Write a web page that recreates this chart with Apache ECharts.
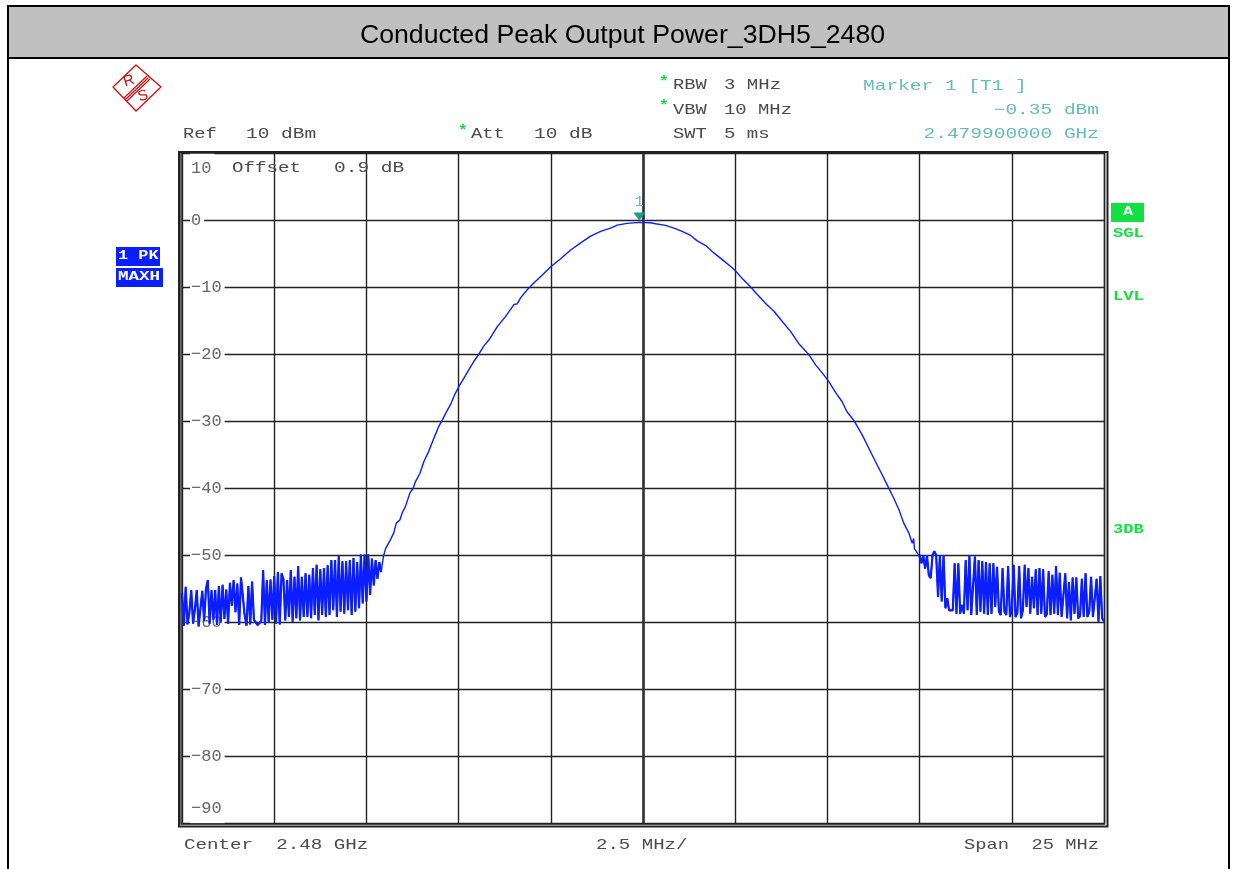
<!DOCTYPE html>
<html><head><meta charset="utf-8">
<style>html,body{margin:0;padding:0;background:#fff}#c{width:1237px;height:869px}</style>
<script src="https://cdn.jsdelivr.net/npm/echarts@6/dist/echarts.min.js"></script>
</head><body><div id="c"></div>
<script>
const chartTitle = 'Conducted Peak Output Power_3DH5_2480';
const startMHz = 2467.5, stopMHz = 2492.5, centerMHz = 2480, divMHz = 2.5, sweepStep = 0.05;
const refLevel = 10, bottomLevel = -90, divDb = 10;
const markerMHz = 2479.9, markerDbm = -0.35;

// noise floor left of the skirt, one reading per 0.05 MHz from 2467.5 MHz
const leftNoise = [
-55.6,-60.5,-54.7,-60.3,-58.5,-55.2,-60.2,-58,-55.2,-60.6,
-60.8,-55.3,-59.8,-55,-53.7,-60.2,-55.2,-59.6,-55.2,-60.4,
-54.6,-60,-54.4,-59.5,-55.1,-60.2,-54.1,-57.5,-53.7,-58.5,
-54.2,-60.4,-53.3,-53.5,-59,-60.5,-54.6,-60.3,-53.9,-59.6,
-60,-60.4,-60.2,-59.8,-52.2,-60.4,-53.7,-60,-53.6,-59.6,
-53.1,-60.2,-52.5,-60.3,-52.7,
-53.5,-59.7,-53.7,-59.2,-52.2,-59.9,-53.2,-59.4,-51.6,-59.7,
-53.2,-59.2,-52.7,-59.2,-52.9,-59.4,-51.9,-58.9,-51.4,-59.7,
-52.1,-58.9,-51.9,-59.2,-51.5,-58.9,-50.7,-58.2,-50.7,-59.2,
-50.1,-58.4,-50.9,-58.7,-50.9,-58.2,-50.7,-58.9,-50.4,-58.4,
-51,-57.9,-49.9,-57.2,-49.9,-56.9,-49.9,-55.9,-50.5,-54.5,
-50.7,-53.5,-51,-52.5];

// main lobe: frequencies (MHz) and levels (dBm)
const skirtMHz = [
2472.96,2473.02,2473.15,2473.24,2473.31,2473.41,2473.47,2473.56,2473.62,2473.68,
2473.77,2473.83,2473.95,2474.06,2474.19,2474.31,2474.37,2474.46,2474.56,2474.67,
2474.80,2474.89,2475.01,2475.14,2475.28,2475.41,2475.55,2475.68,2475.82,2476.05,
2476.27,2476.50,2476.59,2476.68,2476.86,2477.04,2477.27,2477.49,2477.76,2478.03,
2478.31,2478.58,2478.85,2479.12,2479.30,2479.57,2479.90,2480.20,2480.34,2480.61,
2480.84,2481.06,2481.29,2481.47,2481.70,2481.92,2482.15,2482.37,2482.51,2482.69,
2482.87,2483.10,2483.32,2483.55,2483.77,2484.00,2484.22,2484.50,2484.68,2484.86,
2485.04,2485.22,2485.40,2485.53,2485.72,2485.94,2486.21,2486.44,2486.62,2486.80,
2486.94,2487.07,2487.21,2487.30,2487.34,2487.36,2487.48];
const skirtDbm = [
-50.2,-49.0,-47.7,-46.7,-45.2,-44.7,-43.7,-42.7,-41.7,-40.7,
-40.0,-39.0,-37.8,-36.0,-34.5,-32.8,-32.0,-30.8,-29.8,-28.6,
-27.3,-26.1,-24.8,-23.6,-22.3,-21.1,-20.0,-18.8,-17.9,-15.9,
-14.4,-12.6,-12.5,-11.6,-10.4,-9.4,-8.2,-7.0,-5.8,-4.5,
-3.4,-2.4,-1.7,-1.2,-0.75,-0.5,-0.35,-0.4,-0.55,-0.8,
-1.2,-1.7,-2.3,-3.1,-3.8,-4.9,-5.9,-6.9,-7.6,-8.7,
-9.7,-11.1,-12.4,-13.6,-15.1,-16.6,-18.4,-20.1,-21.6,-22.8,
-24.1,-25.7,-27.1,-28.6,-29.9,-32.0,-35.0,-37.5,-39.5,-41.5,
-43.2,-45.2,-46.7,-48.2,-47.5,-49.0,-50.0];

// noise floor right of the skirt, one reading per 0.05 MHz from 2487.5 MHz
const rightNoise = [
-49.9,-51.2,-50.1,-52.0,-50.0,-53.0,-53.4,-50.0,-49.4,-50.0,-56.2,-50.0,
-56.9,-50.0,-57.9,-56.4,-58.2,-58.4,-58.2,-51.2,-58.7,-51.2,-58.7,-57.4,
-58.7,-50.7,-58.2,-50.0,-58.9,-59.1,-50.2,-58.9,-50.7,-58.4,-50.9,-58.7,-51.0,-58.9,-51.2,-58.7,-51.2,-57.7,-51.7,-58.4,
-58.9,-51.9,-58.4,-58.9,-51.6,-59.2,-58.0,
-51.4,-59.2,-58.6,-51.6,-59.4,-58.2,-51.4,-57.7,-51.9,-58.7,
-53.2,-57.9,-52.1,-58.9,-51.9,-58.7,-52.1,-59.2,-58.8,-52.4,
-58.9,-52.9,-58.7,-51.6,-58.9,-52.6,-59.2,-59.0,-52.7,-59.4,
-54.0,-59.7,-53.3,-58.7,-53.3,-59.4,-59.1,-53.5,-59.2,-52.7,
-59.2,-58.4,-53.2,-59.2,-59.4,-53.5,-59.9,-53.1,-59.4,-59.8];

const leftPoints = leftNoise.map((v, i) => [startMHz + i * sweepStep, v]);
const lobePoints = skirtDbm.map((v, i) => [skirtMHz[i], v]);
const rightPoints = rightNoise.map((v, i) => [2487.5 + i * sweepStep, v]);
const tracePoints = [...leftPoints, ...lobePoints, ...rightPoints];
const noisePoints = [...leftPoints, [centerMHz, null], ...rightPoints];

const MONO = '"Liberation Mono", monospace';
const GREY = '#4a4a4a', TEAL = '#63bdb8', GREEN = '#10e040', BLUE = '#0a1eff';

function label(text, x, y, o) {
  o = o || {};
  return { type: 'text', x, y, scaleX: o.sx || 1.25, z: 40, silent: true,
    style: { text, fill: o.color || GREY, font: (o.weight || 'normal') + ' ' + (o.size || 15) + 'px ' + MONO,
      textAlign: o.align || 'left', textVerticalAlign: 'middle', verticalAlign: 'middle' } };
}
function box(x, y, w, h, fill) {
  return { type: 'rect', z: 39, silent: true, shape: { x, y, width: w, height: h }, style: { fill } };
}
const frame = (x, y, w, h, lw) => ({ type: 'rect', z: 30, silent: true, shape: { x, y, width: w, height: h },
  style: { fill: 'none', stroke: '#222', lineWidth: lw } });

const logoColor = '#cc1010';
const graphics = [
  { type: 'rect', z: -10, silent: true, shape: { x: 8, y: 6, width: 1221, height: 52 }, style: { fill: '#c0c0c0' } },
  { type: 'polyline', z: -9, silent: true, shape: { points: [[8, 869], [8, 6], [1229, 6], [1229, 869]] }, style: { fill: 'none', stroke: '#000', lineWidth: 2 } },
  { type: 'line', z: -9, silent: true, shape: { x1: 8, y1: 58, x2: 1229, y2: 58 }, style: { stroke: '#000', lineWidth: 2 } },
  frame(179, 152, 928.5, 674.5, 2),
  frame(181, 153, 923.5, 671, 1.4),
  // logo
  { type: 'polygon', z: 5, silent: true, shape: { points: [[136, 65], [161, 87], [136, 111], [113, 87]] }, style: { fill: 'none', stroke: logoColor, lineWidth: 1.3, lineJoin: 'round' } },
  { type: 'line', z: 5, silent: true, shape: { x1: 124, y1: 98, x2: 147, y2: 76 }, style: { stroke: logoColor, lineWidth: 1.2 } },
  { type: 'line', z: 5, silent: true, shape: { x1: 125.5, y1: 99.5, x2: 148.5, y2: 77.5 }, style: { stroke: logoColor, lineWidth: 1.2 } },
  { type: 'line', z: 5, silent: true, shape: { x1: 127, y1: 101, x2: 150, y2: 79 }, style: { stroke: logoColor, lineWidth: 1.2 } },
  { type: 'text', z: 5, x: 129, y: 81, rotation: 0.3, silent: true, style: { text: 'R', fill: logoColor, font: '15px "Liberation Sans"', textAlign: 'center', verticalAlign: 'middle' } },
  { type: 'text', z: 5, x: 143, y: 96, rotation: 0.3, silent: true, style: { text: 'S', fill: logoColor, font: '15px "Liberation Sans"', textAlign: 'center', verticalAlign: 'middle' } },
  // header texts
  label('Ref', 183, 134),
  label('10 dBm', 246, 134, { sx: 1.3 }),
  label('*', 458, 131, { color: GREEN, weight: 'bold', sx: 1.1 }),
  label('Att', 471, 134),
  label('10 dB', 534, 134, { sx: 1.3 }),
  label('*', 659, 82, { color: GREEN, weight: 'bold', sx: 1.1 }),
  label('RBW', 673, 85),
  label('3 MHz', 724, 85, { sx: 1.27 }),
  label('*', 659, 106, { color: GREEN, weight: 'bold', sx: 1.1 }),
  label('VBW', 673, 110),
  label('10 MHz', 724, 110, { sx: 1.26 }),
  label('SWT', 673, 134),
  label('5 ms', 724, 134, { sx: 1.27 }),
  label('Marker 1 [T1 ]', 863, 86, { color: TEAL, sx: 1.3 }),
  label('\u22120.35 dBm', 1099, 110, { color: TEAL, align: 'right', sx: 1.3 }),
  label('2.479900000 GHz', 1099, 134, { color: TEAL, align: 'right', sx: 1.3 }),
  label('Offset', 232, 168, { sx: 1.28 }),
  label('0.9 dB', 334, 168, { sx: 1.3 }),
  label('Center  2.48 GHz', 184, 845, { sx: 1.28 }),
  label('2.5 MHz/', 596, 845, { sx: 1.27 }),
  label('Span  25 MHz', 1099, 845, { align: 'right', sx: 1.25 }),
  // side badges
  box(116, 247, 44, 19, BLUE),
  label('1 PK', 118, 256, { color: '#fff', weight: 'bold', size: 13, sx: 1.3 }),
  box(116, 268, 47, 19, BLUE),
  label('MAXH', 118, 277, { color: '#fff', weight: 'bold', size: 13, sx: 1.35 }),
  box(1111, 203, 33, 19, GREEN),
  label('A', 1128, 212, { color: '#fff', weight: 'bold', size: 13, align: 'center', sx: 1.3 }),
  label('SGL', 1113, 234, { color: GREEN, weight: 'bold', size: 13, sx: 1.32 }),
  label('LVL', 1113, 297, { color: GREEN, weight: 'bold', size: 13, sx: 1.32 }),
  label('3DB', 1113, 530, { color: GREEN, weight: 'bold', size: 13, sx: 1.32 })
];

const chart = echarts.init(document.getElementById('c'), null, { renderer: 'canvas', width: 1237, height: 869 });
chart.setOption({
  animation: false,
  backgroundColor: '#fff',
  title: { text: chartTitle, left: 617.5, top: 16, textAlign: 'center',
    textStyle: { color: '#000', fontFamily: '"Liberation Sans", Arial, sans-serif', fontWeight: 'normal', fontSize: 26.7, lineHeight: 30 } },
  graphic: graphics,
  grid: { left: 182, right: 1237 - 1104, top: 153, bottom: 869 - 823.5, show: false },
  xAxis: { type: 'value', min: startMHz, max: stopMHz, interval: divMHz,
    axisLabel: { show: false }, axisTick: { show: false }, axisLine: { show: false },
    splitLine: { show: true, lineStyle: { color: '#222', width: 1.4 } } },
  yAxis: { type: 'value', min: bottomLevel, max: refLevel, interval: divDb,
    axisTick: { show: false }, axisLine: { show: false },
    splitLine: { show: true, lineStyle: { color: '#222', width: 1.4 } },
    axisLabel: { inside: true, margin: 8, color: '#666', fontFamily: MONO, fontSize: 17,
      backgroundColor: '#fff', padding: [7, 3, 7, 1],
      verticalAlignMinLabel: 'bottom', verticalAlignMaxLabel: 'top',
      formatter: v => String(v).replace('-', '\u2212') } },
  series: [{
    name: 'Trace', type: 'line', data: tracePoints, showSymbol: false, symbol: 'none', z: 5,
    lineStyle: { color: BLUE, width: 1.4 },
    markLine: { silent: true, symbol: 'none', animation: false, label: { show: false },
      lineStyle: { color: '#333', width: 2.6, type: 'solid' }, data: [{ xAxis: centerMHz }] },
    markPoint: { silent: true, animation: false, symbol: 'triangle', symbolRotate: 180, symbolSize: [12, 8], symbolOffset: [0, -6],
      itemStyle: { color: '#1a9a94' },
      label: { show: true, formatter: '1', position: 'top', distance: 3, color: TEAL, fontFamily: MONO, fontSize: 15 },
      data: [{ coord: [markerMHz, markerDbm] }] }
  }, {
    name: 'Noise floor', type: 'line', data: noisePoints, showSymbol: false, symbol: 'none', z: 5,
    connectNulls: false, lineStyle: { color: BLUE, width: 2.2 }
  }]
});
</script></body></html>
